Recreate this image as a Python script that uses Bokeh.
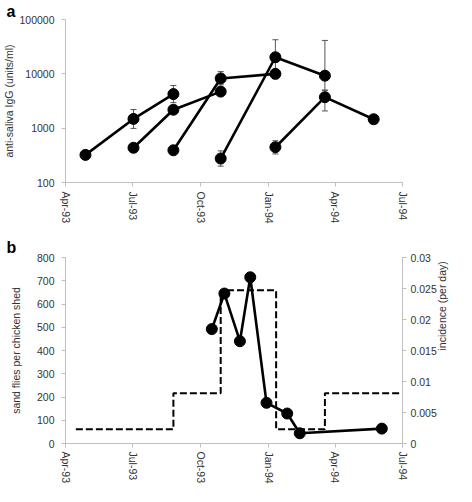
import math
import numpy as np
import pandas as pd
from bokeh.plotting import figure
from bokeh.layouts import column
from bokeh.models import (FixedTicker, DatetimeTickFormatter, NumeralTickFormatter,
                          PrintfTickFormatter, Range1d, LinearAxis, Whisker, TeeHead,
                          ColumnDataSource, Title)
from bokeh.embed import file_html
from bokeh.resources import INLINE

# ---------------- data ----------------
month_ticks = ["1993-04-01", "1993-07-01", "1993-10-01", "1994-01-01", "1994-04-01", "1994-07-01"]

s1_dates = ["1993-04-28", "1993-07-02", "1993-08-25"]
s1_vals = [322, 1480, 4240]
s1_lo = [276, 990, 2950]
s1_hi = [390, 2200, 6100]

s2_dates = ["1993-07-02", "1993-08-25", "1993-10-28"]
s2_vals = [436, 2185, 4710]
s2_lo = [np.nan, np.nan, np.nan]
s2_hi = [np.nan, np.nan, np.nan]

s3_dates = ["1993-08-25", "1993-10-28", "1994-01-10"]
s3_vals = [392, 8230, 10000]
s3_lo = [np.nan, 6270, 8130]
s3_hi = [np.nan, 11000, 11560]

s4_dates = ["1993-10-28", "1994-01-10", "1994-03-18"]
s4_vals = [276, 20200, 9250]
s4_lo = [200, 12000, 5000]
s4_hi = [382, 42400, 41200]

s5_dates = ["1994-01-10", "1994-03-18", "1994-05-23"]
s5_vals = [446, 3720, 1460]
s5_lo = [335, 2075, np.nan]
s5_hi = [586, 5000, np.nan]

fly_dates = ["1993-10-16", "1993-11-02", "1993-11-23", "1993-12-07", "1993-12-29",
             "1994-01-26", "1994-02-12", "1994-06-03"]
fly_counts = [492, 645, 440, 715, 175, 129, 44, 64]

inc_dates = ["1993-04-15", "1993-08-25", "1993-10-28", "1994-01-11", "1994-03-18", "1994-07-01"]
inc_vals = [0.0023, 0.0081, 0.0247, 0.0023, 0.0081, 0.0081]

igg_ticks = [100, 1000, 10000, 100000]
fly_ticks = [0, 100, 200, 300, 400, 500, 600, 700, 800]
inc_ticks = [0, 0.005, 0.01, 0.015, 0.02, 0.025, 0.03]

# ---------------- helpers ----------------
FONT = "Liberation Sans"
AX = "#bfbfbf"
TXT = "#333333"
LEFT = 60
W = 456
RIGHT = 49


def ms(d):
    return pd.Timestamp(d).value / 1e6


def dt(lst):
    return pd.to_datetime(lst)


def style_axis(ax, title_standoff=4, label_standoff=7):
    ax.axis_line_color = AX
    ax.major_tick_line_color = AX
    ax.minor_tick_line_color = None
    ax.major_tick_out = 4
    ax.major_tick_in = 0
    ax.major_label_text_font = FONT
    ax.major_label_text_font_size = "10.5px"
    ax.major_label_text_color = TXT
    ax.axis_label_text_font = FONT
    ax.axis_label_text_font_size = "10.5px"
    ax.axis_label_text_font_style = "normal"
    ax.axis_label_text_color = TXT
    ax.major_label_standoff = label_standoff
    ax.axis_label_standoff = title_standoff


def style_xaxis(p, label_standoff=6):
    xa = p.xaxis[0]
    style_axis(xa, label_standoff=label_standoff)
    xa.ticker = FixedTicker(ticks=[ms(d) for d in month_ticks])
    fmt = "%b-%y"
    xa.formatter = DatetimeTickFormatter(days=fmt, months=fmt, years=fmt, hours=fmt,
                                         minutes=fmt, seconds=fmt, milliseconds=fmt,
                                         minsec=fmt, hourmin=fmt)
    xa.major_label_orientation = -math.pi / 2


def panel_title(txt, standoff=0):
    return Title(text=txt, align="left", offset=-LEFT + 1, standoff=standoff,
                 text_font=FONT, text_font_style="bold", text_font_size="16px",
                 text_color="black")


x_start = ms("1993-04-01")
x_end = ms("1994-07-01")

# ---------------- panel a ----------------
pa = figure(width=W, height=234, x_axis_type="datetime", y_axis_type="log",
            x_range=Range1d(x_start, x_end), y_range=Range1d(100, 100000),
            output_backend="svg", toolbar_location=None,
            min_border_left=LEFT, min_border_right=RIGHT, min_border_top=0, min_border_bottom=52)
pa.outline_line_color = None
pa.xgrid.visible = False
pa.ygrid.visible = False
style_xaxis(pa, label_standoff=5)
ya = pa.yaxis[0]
style_axis(ya, title_standoff=1)
ya.ticker = FixedTicker(ticks=igg_ticks)
ya.formatter = NumeralTickFormatter(format="0")
ya.axis_label = "anti-saliva IgG (units/ml)"

for d, v, lo, hi in [(s1_dates, s1_vals, s1_lo, s1_hi), (s2_dates, s2_vals, s2_lo, s2_hi),
                     (s3_dates, s3_vals, s3_lo, s3_hi), (s4_dates, s4_vals, s4_lo, s4_hi),
                     (s5_dates, s5_vals, s5_lo, s5_hi)]:
    xs = dt(d)
    keep = [i for i in range(len(v)) if not (np.isnan(lo[i]) or np.isnan(hi[i]))]
    if keep:
        src = ColumnDataSource(dict(x=[xs[i] for i in keep], lo=[lo[i] for i in keep],
                                    hi=[hi[i] for i in keep]))
        w = Whisker(source=src, base="x", lower="lo", upper="hi", dimension="height",
                    line_color="#555555", line_width=1,
                    upper_head=TeeHead(size=6, line_color="#555555", line_width=1),
                    lower_head=TeeHead(size=6, line_color="#555555", line_width=1))
        pa.add_layout(w)
    pa.line(xs, v, line_color="black", line_width=2.6)
    pa.scatter(xs, v, size=11, fill_color="black", line_color="black")

pa.add_layout(panel_title("a"), "above")

# ---------------- panel b ----------------
pb = figure(width=W, height=252, x_axis_type="datetime",
            x_range=Range1d(x_start, x_end), y_range=Range1d(0, 800),
            output_backend="svg", toolbar_location=None,
            min_border_left=LEFT, min_border_right=RIGHT, min_border_top=16, min_border_bottom=36)
pb.outline_line_color = None
pb.xgrid.visible = False
pb.ygrid.visible = False
style_xaxis(pb, label_standoff=4)
yb = pb.yaxis[0]
style_axis(yb, title_standoff=12)
yb.ticker = FixedTicker(ticks=fly_ticks)
yb.axis_label = "sand flies per chicken shed"

pb.extra_y_ranges = {"inc": Range1d(0, 0.03)}
yr = LinearAxis(y_range_name="inc", axis_label="incidence (per day)")
style_axis(yr, title_standoff=2, label_standoff=4)
yr.ticker = FixedTicker(ticks=inc_ticks)
yr.formatter = PrintfTickFormatter(format="%g")
try:
    yr.axis_label_orientation = math.pi / 2
except Exception:
    pass
pb.add_layout(yr, "right")

pb.step(dt(inc_dates), inc_vals, mode="after", y_range_name="inc",
        line_color="black", line_width=2, line_dash="7 3")
pb.line(dt(fly_dates), fly_counts, line_color="black", line_width=2.6)
pb.scatter(dt(fly_dates), fly_counts, size=11, fill_color="black", line_color="black")

pb.add_layout(panel_title("b", standoff=4), "above")

layout = column(pa, pb, spacing=0)
open("out.html", "w").write(file_html(layout, INLINE))
